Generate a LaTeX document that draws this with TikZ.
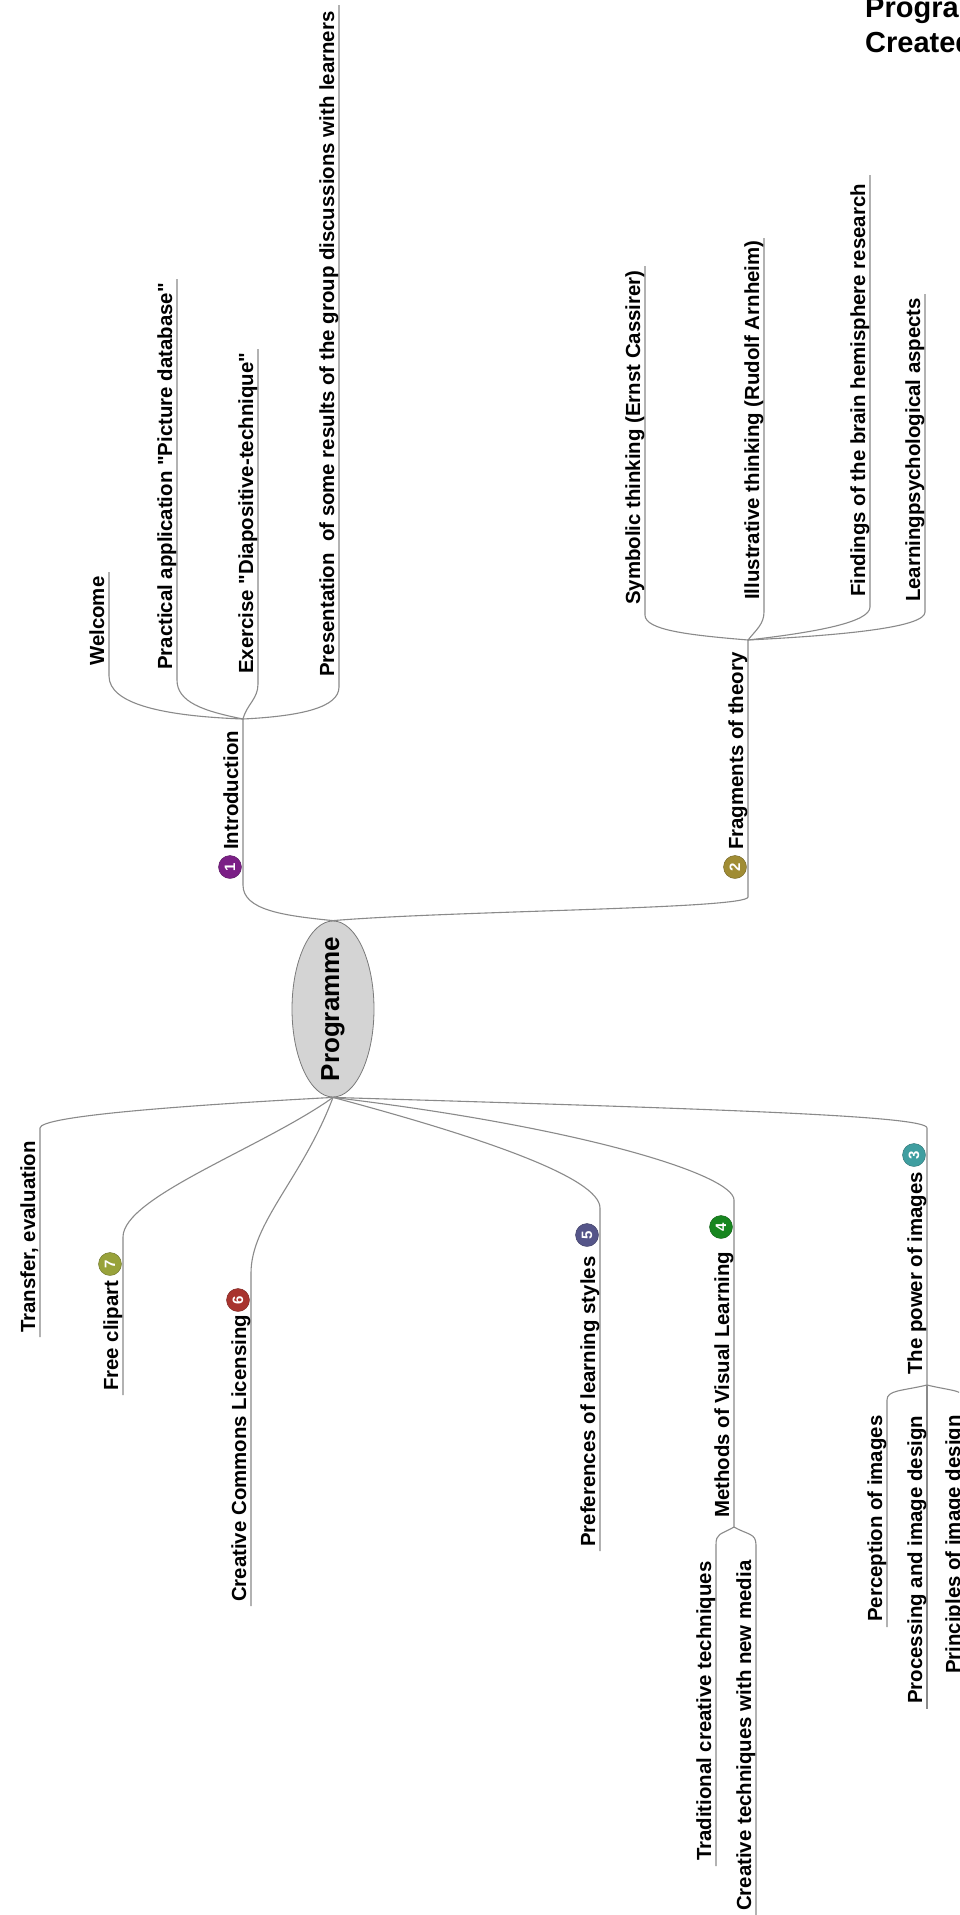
\documentclass[tikz,border=0pt]{standalone}
\usepackage{fontspec}
\setmainfont{Liberation Sans}
% plain family without TeX ligatures, so that " stays a straight quote
\newfontfamily\labfont{Liberation Sans}
\usetikzlibrary{shapes.geometric}
\definecolor{linegray}{HTML}{8A8A8A}
\definecolor{rootfill}{HTML}{D4D4D4}
\definecolor{rootedge}{HTML}{7A7A7A}
\definecolor{cpurple}{HTML}{7B1F86}
\definecolor{colive}{HTML}{A08C34}
\definecolor{cteal}{HTML}{3F9EA0}
\definecolor{cgreen}{HTML}{17861F}
\definecolor{cslate}{HTML}{555589}
\definecolor{cred}{HTML}{A8332E}
\definecolor{clime}{HTML}{98A23A}
\begin{document}
\begin{tikzpicture}[x=1pt,y=-1pt,
  leaf/.style={rotate=90, anchor=base west, inner sep=0pt,
    font=\labfont\fontsize{20.4}{24}\selectfont\bfseries},
  wire/.style={draw=linegray, line width=1.1pt},
  badge/.style={circle, fill=#1, draw=#1!70!black, line width=0.4pt,
    minimum size=23pt, inner sep=0pt, text=white, rotate=90,
    font=\labfont\fontsize{15}{15}\selectfont\bfseries},
  heading/.style={anchor=base west, inner sep=0pt,
    font=\labfont\fontsize{29}{29}\selectfont\bfseries}]
\clip (0,0) rectangle (959,1915);
\fill[white] (0,0) rectangle (959,1915);

% heading in the top right corner
\node[heading] (head1) at (865,17) {Programme};
\node[heading] (head2) at (865,52) {Created};

% central topic
\node[ellipse, draw=rootedge, fill=rootfill, line width=0.8pt,
  minimum width=82pt, minimum height=176pt, inner sep=0pt] (root) at (333,1009) {};
\node[rotate=90, inner sep=0pt, font=\labfont\fontsize{26}{30}\selectfont\bfseries]
  (rootlabel) at (root.center) {Programme};

% ---------- 1 Introduction ----------
\coordinate (introB) at (243,885);
\coordinate (introJ) at (243,719);
\draw[wire] (root.north) .. controls +(-50,-5) and +(0,25) .. (introB) -- (introJ);
\node[badge=cpurple] (n1) at (230,867) {1};
\node[leaf] (intro) at (238,850) {Introduction};

\coordinate (welA) at (109,676);  \coordinate (welT) at (109,572);
\coordinate (pracA) at (177,680); \coordinate (pracT) at (177,279);
\coordinate (exA) at (258,684);   \coordinate (exT) at (258,349);
\coordinate (presA) at (339,687); \coordinate (presT) at (339,5);
\draw[wire] (introJ) .. controls +(-80,-3) and +(0,28) .. (welA) -- (welT);
\draw[wire] (introJ) .. controls +(-40,-8) and +(0,22) .. (pracA) -- (pracT);
\draw[wire] (introJ) .. controls +(4,-15) and +(0,15) .. (exA) -- (exT);
\draw[wire] (introJ) .. controls +(60,-3) and +(0,20) .. (presA) -- (presT);
\node[leaf] (wel) at (104,666) {Welcome};
\node[leaf] (prac) at (172,670) {Practical application "Picture database"};
\node[leaf] (ex) at (253,674) {Exercise "Diapositive-technique"};
\node[leaf] (pres) at (334,677) {Presentation\ \ of some results of the group discussions with learners};

% ---------- 2 Fragments of theory ----------
\coordinate (fragB) at (748,897);
\coordinate (fragJ) at (748,640);
\draw[wire] (root.north) .. controls +(120,-10) and +(0,12) .. (fragB) -- (fragJ);
\node[badge=colive] (n2) at (735,867) {2};
\node[leaf] (frag) at (743,850) {Fragments of theory};

\coordinate (symA) at (645,615); \coordinate (symT) at (645,266);
\coordinate (illA) at (764,612); \coordinate (illT) at (764,238);
\coordinate (finA) at (870,607); \coordinate (finT) at (870,175);
\coordinate (lrnA) at (925,612); \coordinate (lrnT) at (925,294);
\draw[wire] (fragJ) .. controls +(-60,-5) and +(0,15) .. (symA) -- (symT);
\draw[wire] (fragJ) .. controls +(8,-10) and +(0,12) .. (illA) -- (illT);
\draw[wire] (fragJ) .. controls +(70,-8) and +(0,15) .. (finA) -- (finT);
\draw[wire] (fragJ) .. controls +(100,-5) and +(0,15) .. (lrnA) -- (lrnT);
\node[leaf] (sym) at (640,605) {Symbolic thinking (Ernst Cassirer)};
\node[leaf] (ill) at (759,600) {Illustrative thinking (Rudolf Arnheim)};
\node[leaf] (fin) at (865,597) {Findings of the brain hemisphere research};
\node[leaf] (lrn) at (920,602) {Learningpsychological aspects};

% ---------- Transfer, evaluation ----------
\coordinate (trT) at (40,1128); \coordinate (trB) at (40,1337);
\draw[wire] (root.south) .. controls +(-150,8) and +(0,-12) .. (trT) -- (trB);
\node[leaf] (tr) at (35,1333) {Transfer, evaluation};

% ---------- 7 Free clipart ----------
\coordinate (clipT) at (123,1237); \coordinate (clipB) at (123,1395);
\draw[wire] (root.south) .. controls +(-70,50) and +(0,-40) .. (clipT) -- (clipB);
\node[badge=clime] (n7) at (110,1264) {7};
\node[leaf] (clip) at (118,1391) {Free clipart};

% ---------- 6 Creative Commons Licensing ----------
\coordinate (ccT) at (251,1273); \coordinate (ccB) at (251,1606);
\draw[wire] (root.south) .. controls +(-30,80) and +(0,-50) .. (ccT) -- (ccB);
\node[badge=cred] (n6) at (238,1300) {6};
\node[leaf] (cc) at (246,1602) {Creative Commons Licensing};

% ---------- 5 Preferences of learning styles ----------
\coordinate (prefT) at (600,1208); \coordinate (prefB) at (600,1551);
\draw[wire] (root.south) .. controls +(150,40) and +(0,-30) .. (prefT) -- (prefB);
\node[badge=cslate] (n5) at (587,1235) {5};
\node[leaf] (pref) at (595,1547) {Preferences of learning styles};

% ---------- 4 Methods of Visual Learning ----------
\coordinate (methT) at (734,1200); \coordinate (methJ) at (734,1527);
\draw[wire] (root.south) .. controls +(250,30) and +(0,-25) .. (methT) -- (methJ);
\node[badge=cgreen] (n4) at (721,1227) {4};
\node[leaf] (meth) at (729,1518) {Methods of Visual Learning};

\coordinate (tradT) at (716,1545); \coordinate (tradB) at (716,1866);
\coordinate (newT) at (756,1545);  \coordinate (newB) at (756,1920);
\draw[wire] (methJ) .. controls +(-14,8) and +(0,-12) .. (tradT) -- (tradB);
\draw[wire] (methJ) .. controls +(14,8) and +(0,-12) .. (newT) -- (newB);
\node[leaf] (trad) at (711,1861) {Traditional creative techniques};
\node[leaf] (new) at (751,1911) {Creative techniques with new media};

% ---------- 3 The power of images ----------
\coordinate (powT) at (927,1128); \coordinate (powJ) at (927,1385);
\draw[wire] (root.south) .. controls +(400,12) and +(0,-12) .. (powT) -- (powJ);
\node[badge=cteal] (n3) at (914,1155) {3};
\node[leaf] (pow) at (922,1375) {The power of images};

\coordinate (percT) at (887,1400); \coordinate (percB) at (887,1627);
\coordinate (procT) at (927,1400); \coordinate (procB) at (927,1709);
\coordinate (prinT) at (965,1400); \coordinate (prinB) at (965,1679);
\draw[wire] (powJ) .. controls +(-25,6) and +(0,-10) .. (percT) -- (percB);
\draw[wire] (powJ) -- (procT) -- (procB);
\draw[wire] (powJ) .. controls +(25,6) and +(0,-10) .. (prinT) -- (prinB);
\node[leaf] (perc) at (882,1622) {Perception of images};
\node[leaf] (proc) at (922,1704) {Processing and image design};
\node[leaf] (prin) at (960,1674) {Principles of image design};
\end{tikzpicture}
\end{document}
